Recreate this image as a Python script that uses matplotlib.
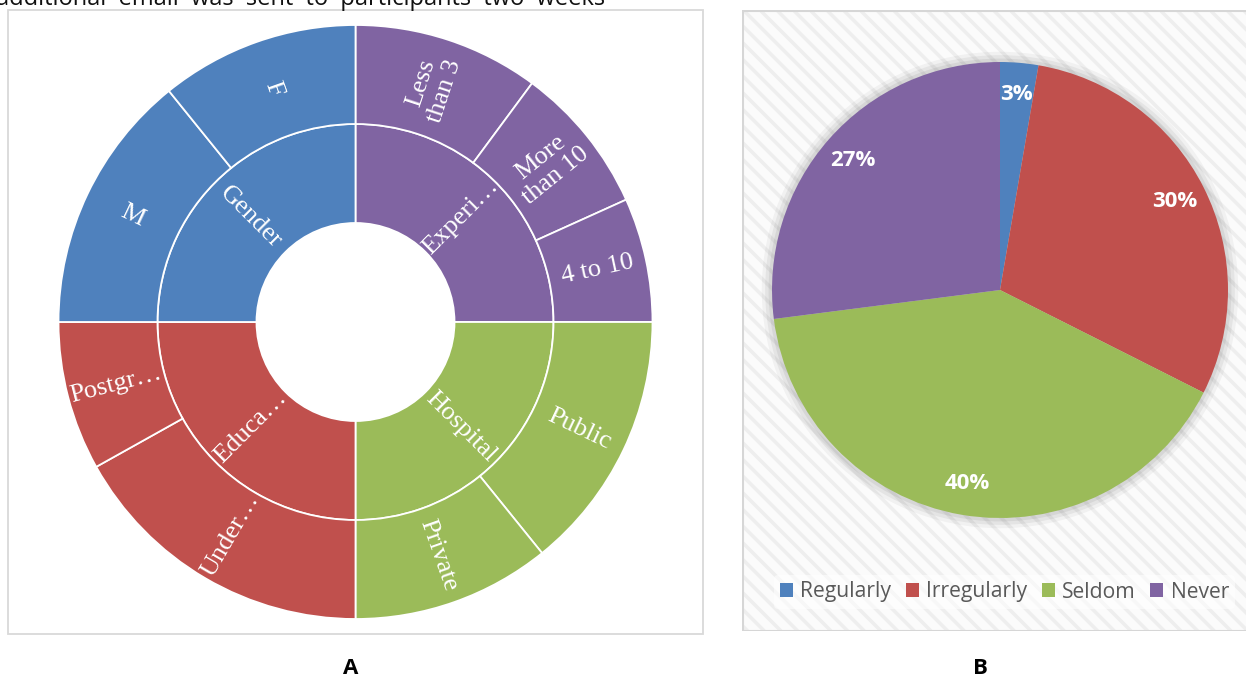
import numpy as np
import matplotlib.pyplot as plt
from matplotlib.patches import Rectangle, Circle

# panel A: sunburst (inner ring = group, outer ring = answers), counts
groups = ["Experi…", "Hospital", "Educa…", "Gender"]
group_colors = ["#8064A2", "#9BBB59", "#C0504D", "#4F81BD"]
sub_labels = [["Less\nthan 3", "More\nthan 10", "4 to 10"],
              ["Public", "Private"],
              ["Under…", "Postgr…"],
              ["M", "F"]]
sub_counts = [[15, 12, 10],
              [21, 16],
              [25, 12],
              [21, 16]]

# panel B: pie
pie_names = ["Regularly", "Irregularly", "Seldom", "Never"]
pie_values = [2.7, 29.7, 40.5, 27.0]
pie_text = ["3%", "30%", "40%", "27%"]
pie_colors = ["#4F81BD", "#C0504D", "#9BBB59", "#8064A2"]

W, H = 1246, 680
fig = plt.figure(figsize=(W / 100, H / 100), dpi=100)
plt.rcParams['hatch.linewidth'] = 2.5


def px_axes(x0, y0, x1, y1):
    return fig.add_axes([x0 / W, 1 - y1 / H, (x1 - x0) / W, (y1 - y0) / H])


def text_rot(mid):
    mid = (mid + 180) % 360 - 180
    if mid > 90:
        return mid - 180
    if mid < -90:
        return mid + 180
    return mid


# cut-off line of body text above the figures (it is clipped in the source image too)
fig.text(-4 / W, 1 - 5 / H, "additional  email  was  sent  to  participants  two  weeks",
         fontsize=17, family="Open Sans", va="baseline", ha="left", color="#111111")

# ---- panel A ----
fig.add_artist(Rectangle((8 / W, 1 - 634 / H), 695 / W, 624 / H, transform=fig.transFigure,
                         fill=False, edgecolor="#d9d9d9", lw=1.3))

axA = px_axes(355.5 - 297, 322 - 297, 355.5 + 297, 322 + 297)
totals = [sum(c) for c in sub_counts]
inner, _ = axA.pie(totals, radius=2 / 3, startangle=90, counterclock=False, colors=group_colors,
                   wedgeprops=dict(width=1 / 3, edgecolor="white", linewidth=1.3))
flat_counts = [v for c in sub_counts for v in c]
flat_labels = [l for c in sub_labels for l in c]
flat_colors = [group_colors[i] for i, c in enumerate(sub_counts) for _ in c]
outer, _ = axA.pie(flat_counts, radius=1, startangle=90, counterclock=False, colors=flat_colors,
                   wedgeprops=dict(width=1 / 3, edgecolor="white", linewidth=1.3))
axA.set_xlim(-1, 1)
axA.set_ylim(-1, 1)
axA.set_aspect("equal")
axA.axis("off")

for wedges, labels, r in [(inner, groups, 0.5), (outer, flat_labels, 5 / 6)]:
    for w, lab in zip(wedges, labels):
        mid = (w.theta1 + w.theta2) / 2
        a = np.radians(mid)
        axA.text(r * np.cos(a), r * np.sin(a), lab, rotation=text_rot(mid), rotation_mode="anchor",
                 ha="center", va="center", color="white", fontsize=19, family="Liberation Serif",
                 linespacing=1.15)

fig.text(351 / W, 1 - 668 / H, "A", fontsize=16, weight="bold", family="Open Sans",
         ha="center", va="center")

# ---- panel B ----
axBg = px_axes(741.5, 10, 1252, 631)
axBg.axis("off")
axBg.add_patch(Rectangle((0, 0), 1, 1, transform=axBg.transAxes, facecolor="#fbfbfb",
                         edgecolor="#eeeeee", hatch="\\\\", lw=0))
axBg.add_patch(Rectangle((0, 0), 1, 1, transform=axBg.transAxes, fill=False,
                         edgecolor="#d6d6d6", lw=2.2))

axB = px_axes(1000 - 228, 290 - 228, 1000 + 228, 290 + 228)
for rr, al in [(1.045, 0.04), (1.03, 0.05), (1.015, 0.06)]:
    axB.add_patch(Circle((0, 0), rr, color="black", alpha=al, lw=0, clip_on=False))
wedgesB, textsB = axB.pie(pie_values, labels=pie_text, colors=pie_colors, startangle=90,
                          counterclock=False, labeldistance=0.86,
                          textprops=dict(color="white", fontsize=16, weight="bold",
                                         family="Open Sans"))
for t in textsB:
    t.set_ha("center")
    t.set_va("center")
axB.set_xlim(-1, 1)
axB.set_ylim(-1, 1)
axB.set_aspect("equal")

leg = fig.legend(wedgesB, pie_names, loc="center", bbox_to_anchor=(1004.5 / W, 1 - 592 / H),
                 ncol=4, frameon=True, handlelength=0.6, handleheight=0.6,
                 handletextpad=0.35, columnspacing=0.7, borderpad=0.3,
                 prop=dict(family="Open Sans", size=15.2))
leg.get_frame().set_facecolor("white")
leg.get_frame().set_alpha(0.55)
leg.get_frame().set_edgecolor("none")
for t in leg.get_texts():
    t.set_color("#595959")

fig.text(980 / W, 1 - 668 / H, "B", fontsize=16, weight="bold", family="Open Sans",
         ha="center", va="center")

fig.savefig("out.png", dpi=100)
